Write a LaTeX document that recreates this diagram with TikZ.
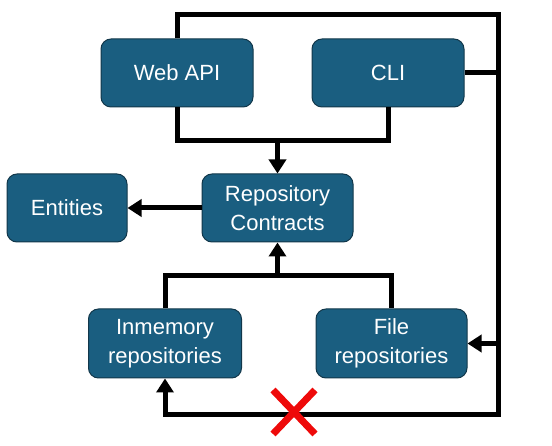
\documentclass[tikz,border=0pt]{standalone}
\usepackage{fontspec}
\setmainfont{Liberation Sans}
\usetikzlibrary{arrows.meta}
\definecolor{boxblue}{RGB}{26,94,128}
\definecolor{boxedge}{RGB}{18,55,74}
\definecolor{xred}{RGB}{238,10,10}
\tikzset{
  comp/.style={rectangle, rounded corners=10pt, fill=boxblue, draw=boxedge, line width=1pt,
    text=white, align=center, inner sep=0pt,
    font=\fontsize{22}{29}\selectfont},
  conn/.style={line width=5pt, line join=miter, draw=black},
  tip/.style={-{Triangle[width=17pt,length=14pt]}},
  xmark/.style={line width=7pt, draw=xred}
}
\begin{document}
\begin{tikzpicture}[x=1pt,y=-1pt]
\useasboundingbox (0,0) rectangle (552,446);
\node[comp, minimum width=152pt, minimum height=68pt] (web) at (177,73) {Web API};
\node[comp, minimum width=152pt, minimum height=68pt] (cli) at (388,73) {CLI};
\node[comp, minimum width=151pt, minimum height=68pt] (repo) at (277.5,208) {Repository\\Contracts};
\node[comp, minimum width=120pt, minimum height=68pt] (ent) at (67,208) {Entities};
\node[comp, minimum width=153pt, minimum height=69pt] (inm) at (165,343.5) {Inmemory\\repositories};
\node[comp, minimum width=151pt, minimum height=69pt] (file) at (391.5,343.5) {File\\repositories};
\coordinate (tr) at (498,15);
\coordinate (br) at (498,415);
\coordinate (m1) at (277.5,140.5);
\coordinate (m2) at (277.5,276);
\coordinate (xc) at (294,412);
% outer loop
\draw[conn,tip] (web.north) |- (tr) -- (br) -| (inm.south);
\draw[conn] (cli.east) -- (cli.east -| tr);
\draw[conn,tip] (file.east -| tr) -- (file.east);
% upper merge
\draw[conn] (web.south) |- (m1) -| (cli.south);
\draw[conn,tip] (m1) -- (repo.north);
% entities
\draw[conn,tip] (repo.west) -- (ent.east);
% lower merge
\draw[conn] (inm.north) |- (m2) -| (file.north);
\draw[conn,tip] (m2) -- (repo.south);
% red cross
\draw[xmark] ([shift={(-21,-22)}]xc) -- ([shift={(21,22)}]xc);
\draw[xmark] ([shift={(-21,22)}]xc) -- ([shift={(21,-22)}]xc);
\end{tikzpicture}
\end{document}
